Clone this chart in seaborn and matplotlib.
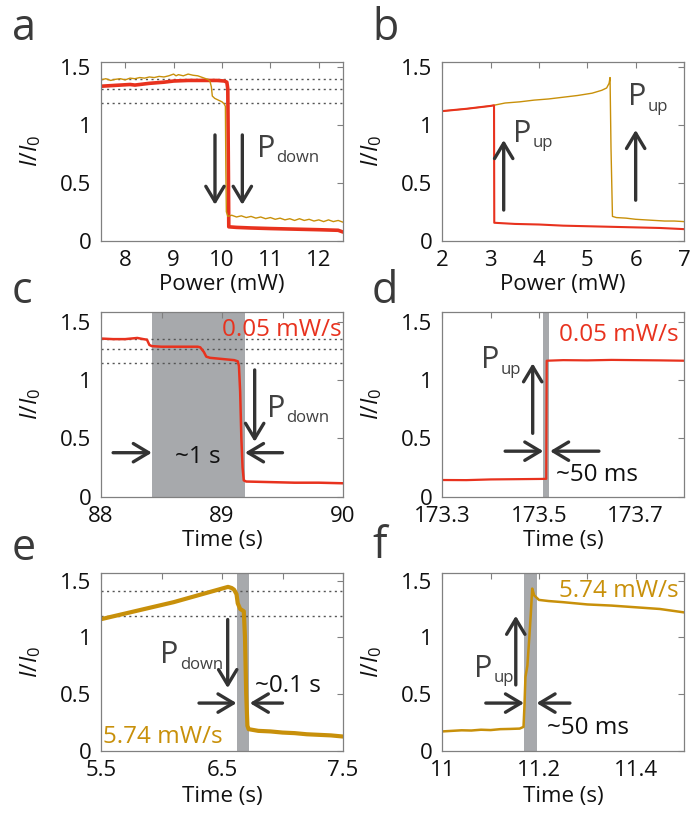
import numpy as np
import matplotlib
matplotlib.use('Agg')
import matplotlib.pyplot as plt
import seaborn as sns

RED = '#e8321e'
GOLD = '#c8900a'
ARROW = '#333333'
TXT = '#404040'

# panel a: intensity vs power (power going up)
a_red_p = [7.5, 7.7, 7.9, 8.1, 8.2, 8.5, 8.8, 9.0, 9.3, 9.6, 9.9, 10.05, 10.1, 10.12, 10.14, 10.3, 10.6, 11.0, 11.5, 12.0, 12.4, 12.5]
a_red_y = [1.335, 1.34, 1.345, 1.35, 1.345, 1.36, 1.37, 1.38, 1.385, 1.385, 1.385, 1.38, 1.37, 1.31, 0.12, 0.115, 0.11, 0.105, 0.1, 0.095, 0.09, 0.075]
a_gold_p = [7.5, 7.6, 7.7, 7.8, 7.9, 8.0, 8.1, 8.2, 8.3, 8.4, 8.5, 8.6, 8.7, 8.8, 8.9, 9.0, 9.05, 9.1, 9.2, 9.3,
            9.4, 9.5, 9.6, 9.7, 9.75, 9.78, 9.8, 9.85, 9.9, 9.95, 10.0, 10.05, 10.07, 10.08, 10.09, 10.12, 10.2,
            10.3, 10.4, 10.5, 10.6, 10.7, 10.8, 10.9, 11.0, 11.1, 11.2, 11.3, 11.4, 11.5, 11.6, 11.7, 11.8, 11.9,
            12.0, 12.1, 12.2, 12.3, 12.4, 12.5]
a_gold_y = [1.39, 1.40, 1.385, 1.395, 1.40, 1.39, 1.405, 1.40, 1.41, 1.405, 1.415, 1.41, 1.42, 1.415, 1.425, 1.44, 1.425, 1.435, 1.425, 1.44,
            1.43, 1.425, 1.41, 1.395, 1.38, 1.33, 1.25, 1.23, 1.22, 1.21, 1.20, 1.18, 1.16, 0.6, 0.25, 0.21, 0.22,
            0.205, 0.215, 0.20, 0.21, 0.195, 0.205, 0.19, 0.20, 0.185, 0.195, 0.18, 0.19, 0.175, 0.19, 0.175, 0.185, 0.17,
            0.18, 0.165, 0.18, 0.165, 0.175, 0.16]
a_levels = [1.395, 1.311, 1.187]

# panel b: intensity vs power (power going down)
b_red_p = [2.0, 2.5, 3.0, 3.07, 3.075, 3.5, 4.0, 4.5, 5.0, 5.5, 6.0, 6.5, 7.0]
b_red_y = [1.12, 1.14, 1.165, 1.17, 0.155, 0.145, 0.14, 0.13, 0.125, 0.12, 0.115, 0.11, 0.1]
b_gold_p = [2.0, 2.5, 3.0, 3.3, 3.6, 3.9, 4.2, 4.5, 4.8, 5.1, 5.3, 5.4, 5.45, 5.47, 5.49, 5.52,
            5.6, 5.8, 6.0, 6.2, 6.4, 6.6, 6.8, 7.0]
b_gold_y = [1.12, 1.14, 1.165, 1.19, 1.20, 1.215, 1.225, 1.24, 1.255, 1.275, 1.30, 1.32, 1.36, 1.41, 0.8, 0.21,
            0.2, 0.195, 0.185, 0.18, 0.175, 0.17, 0.17, 0.165]

# panel c: slow ramp, switching down
c_t = [88.0, 88.1, 88.2, 88.25, 88.3, 88.35, 88.38, 88.4, 88.42, 88.5, 88.6, 88.7, 88.8, 88.82, 88.85, 88.87,
       88.9, 89.0, 89.1, 89.13, 89.14, 89.15, 89.16, 89.17, 89.18, 89.2, 89.4, 89.6, 89.8, 90.0]
c_y = [1.355, 1.35, 1.35, 1.355, 1.36, 1.35, 1.345, 1.30, 1.29, 1.285, 1.285, 1.285, 1.285, 1.28, 1.24, 1.20,
       1.19, 1.18, 1.17, 1.16, 1.12, 0.9, 0.5, 0.25, 0.14, 0.13, 0.125, 0.12, 0.12, 0.115]
c_levels = [1.351, 1.266, 1.148]

# panel d: slow ramp, switching up
d_t = [173.3, 173.35, 173.4, 173.45, 173.5, 173.515, 173.516, 173.55, 173.6, 173.65, 173.7, 173.75, 173.8]
d_y = [0.143, 0.142, 0.148, 0.15, 0.152, 0.153, 1.165, 1.17, 1.168, 1.172, 1.17, 1.168, 1.165]

# panel e: fast ramp, switching down
e_t = [5.5, 5.6, 5.7, 5.8, 5.9, 6.0, 6.1, 6.2, 6.3, 6.4, 6.5, 6.55, 6.58, 6.6, 6.62, 6.63, 6.65, 6.68,
       6.69, 6.70, 6.71, 6.72, 6.8, 6.9, 7.0, 7.1, 7.2, 7.3, 7.4, 7.5]
e_y = [1.16, 1.185, 1.21, 1.235, 1.26, 1.285, 1.31, 1.34, 1.37, 1.40, 1.43, 1.445, 1.435, 1.42, 1.38, 1.30, 1.25, 1.23,
       1.0, 0.5, 0.22, 0.19, 0.175, 0.17, 0.16, 0.155, 0.145, 0.14, 0.135, 0.125]
e_levels = [1.413, 1.192]

# panel f: fast ramp, switching up
f_t = [11.0, 11.02, 11.04, 11.06, 11.08, 11.1, 11.12, 11.14, 11.16, 11.168, 11.17, 11.172, 11.176, 11.18,
       11.183, 11.186, 11.19, 11.2, 11.22, 11.25, 11.3, 11.35, 11.4, 11.45, 11.5]
f_y = [0.17, 0.175, 0.18, 0.178, 0.185, 0.182, 0.19, 0.192, 0.195, 0.21, 0.4, 0.65, 0.75, 1.0,
       1.2, 1.43, 1.37, 1.33, 1.32, 1.31, 1.29, 1.28, 1.265, 1.25, 1.22]

# ticks
y_ticks = [0, 0.5, 1, 1.5]
y_ticklabels = ['0', '0.5', '1', '1.5']
a_ticks = [8, 9, 10, 11, 12]
a_ticklabels = ['8', '9', '10', '11', '12']
b_ticks = [2, 3, 4, 5, 6, 7]
b_ticklabels = ['2', '3', '4', '5', '6', '7']
c_ticks = [88, 88.5, 89, 89.5, 90]
c_ticklabels = ['88', '', '89', '', '90']
d_ticks = [173.3, 173.4, 173.5, 173.6, 173.7, 173.8]
d_ticklabels = ['173.3', '', '173.5', '', '173.7', '']
e_ticks = [5.5, 6.0, 6.5, 7.0, 7.5]
e_ticklabels = ['5.5', '', '6.5', '', '7.5']
f_ticks = [11.0, 11.1, 11.2, 11.3, 11.4, 11.5]
f_ticklabels = ['11', '', '11.2', '', '11.4', '']

sns.set_style('white')
plt.rcParams['font.family'] = ['Open Sans', 'DejaVu Sans']
plt.rcParams['mathtext.fontset'] = 'custom'
plt.rcParams['mathtext.rm'] = 'Open Sans'
plt.rcParams['mathtext.it'] = 'Open Sans:italic'

fig = plt.figure(figsize=(6.96, 8.15), dpi=100)
W, H = 696, 815


def make_ax(left, top, right, bottom, xlim, ylim, ticks, ticklabels, xlabel, labtop):
    ax = fig.add_axes([left / W, 1 - bottom / H, (right - left) / W, (bottom - top) / H])
    ax.set_xlim(*xlim)
    ax.set_ylim(0, ylim)
    ax.set_xticks(ticks)
    ax.set_xticklabels(ticklabels)
    ax.set_yticks(y_ticks)
    ax.set_yticklabels(y_ticklabels)
    ax.tick_params(direction='in', top=True, right=True, length=4, width=0.8,
                   color='#808080', labelsize=16, labelcolor='#111111', pad=7)
    for s in ax.spines.values():
        s.set_color('#808080')
        s.set_linewidth(0.9)
    ax.set_xlabel(xlabel, fontsize=16, color='#111111')
    ax.xaxis.set_label_coords(0.5, -labtop / (bottom - top))
    ax.set_ylabel(r'$I/I_0$', fontsize=17, color='#111111')
    ax.yaxis.set_label_coords(-0.24, 0.5)
    return ax


def arrow(ax, tail, head):
    ax.annotate('', xy=head, xytext=tail,
                arrowprops=dict(arrowstyle='->,head_length=0.55,head_width=0.33', color=ARROW,
                                lw=2.4, shrinkA=0, shrinkB=0, mutation_scale=20))


def ptext(ax, x, y, sub):
    # big "P" with a smaller, lowered subscript
    ax.text(x, y, 'P', fontsize=22, color=TXT, va='baseline')
    ax.annotate(sub, xy=(x, y), xytext=(14, -4), textcoords='offset points',
                fontsize=12, color=TXT, va='baseline')


def line(ax, x, y, color, lw):
    sns.lineplot(x=x, y=y, ax=ax, color=color, linewidth=lw, estimator=None, sort=False, legend=False)


def levels(ax, ys):
    for yv in ys:
        ax.axhline(yv, color='#555555', ls=(0, (1.5, 2.5)), lw=1.0, zorder=1)


# a
ax = make_ax(101, 61.7, 343, 240.7, (7.5, 12.5), 1.547, a_ticks, a_ticklabels, 'Power (mW)', 33)
levels(ax, a_levels)
line(ax, a_red_p, a_red_y, RED, 2.6)
line(ax, a_gold_p, a_gold_y, GOLD, 1.0)
arrow(ax, (9.855, 0.914), (9.855, 0.31))
arrow(ax, (10.42, 0.914), (10.42, 0.31))
ptext(ax, 10.72, 0.726, 'down')

# b
ax = make_ax(442.3, 61.7, 684, 240.7, (2, 7), 1.547, b_ticks, b_ticklabels, 'Power (mW)', 33)
line(ax, b_gold_p, b_gold_y, GOLD, 1.0)
line(ax, b_red_p, b_red_y, RED, 1.5)
arrow(ax, (3.27, 0.265), (3.27, 0.87))
arrow(ax, (6.0, 0.35), (6.0, 0.957))
ptext(ax, 3.47, 0.856, 'up')
ptext(ax, 5.84, 1.173, 'up')

# c
ax = make_ax(101, 311.7, 343, 496.7, (88, 90), 1.585, c_ticks, c_ticklabels, 'Time (s)', 33)
ax.axvspan(88.42, 89.19, color='#a7a9ac', lw=0, zorder=0)
levels(ax, c_levels)
line(ax, c_t, c_y, RED, 1.8)
arrow(ax, (89.27, 1.086), (89.27, 0.47))
arrow(ax, (88.10, 0.377), (88.42, 0.377))
arrow(ax, (89.50, 0.377), (89.19, 0.377))
ptext(ax, 89.37, 0.686, 'down')
ax.text(88.80, 0.29, '~1 s', fontsize=17.5, color='#111111', ha='center', va='baseline')
ax.text(89.99, 1.38, '0.05 mW/s', fontsize=17.5, color=RED, ha='right', va='baseline')

# d
ax = make_ax(442.3, 311.7, 684, 496.7, (173.3, 173.8), 1.585, d_ticks, d_ticklabels, 'Time (s)', 33)
ax.axvspan(173.509, 173.521, color='#a7a9ac', lw=0, zorder=0)
line(ax, d_t, d_y, RED, 1.6)
arrow(ax, (173.487, 0.543), (173.487, 1.143))
arrow(ax, (173.43, 0.39), (173.509, 0.39))
arrow(ax, (173.624, 0.39), (173.523, 0.39))
ptext(ax, 173.38, 1.10, 'up')
ax.text(173.536, 0.137, '~50 ms', fontsize=17.5, color='#111111', va='baseline')
ax.text(173.788, 1.337, '0.05 mW/s', fontsize=17.5, color=RED, ha='right', va='baseline')

# e
ax = make_ax(101, 572.7, 343, 750.7, (5.5, 7.5), 1.57, e_ticks, e_ticklabels, 'Time (s)', 35)
ax.axvspan(6.626, 6.726, color='#a7a9ac', lw=0, zorder=0)
levels(ax, e_levels)
line(ax, e_t, e_y, GOLD, 3.0)
arrow(ax, (6.547, 1.157), (6.547, 0.552))
arrow(ax, (6.31, 0.42), (6.62, 0.42))
arrow(ax, (7.0, 0.42), (6.73, 0.42))
ptext(ax, 5.99, 0.77, 'down')
ax.text(6.773, 0.52, '~0.1 s', fontsize=17.5, color='#111111', va='baseline')
ax.text(5.52, 0.065, '5.74 mW/s', fontsize=17.5, color=GOLD, va='baseline')

# f
ax = make_ax(442.3, 572.7, 684, 750.7, (11.0, 11.5), 1.57, f_ticks, f_ticklabels, 'Time (s)', 35)
ax.axvspan(11.169, 11.195, color='#a7a9ac', lw=0, zorder=0)
line(ax, f_t, f_y, GOLD, 1.8)
arrow(ax, (11.152, 0.58), (11.152, 1.19))
arrow(ax, (11.09, 0.42), (11.169, 0.42))
arrow(ax, (11.264, 0.42), (11.195, 0.42))
ptext(ax, 11.065, 0.653, 'up')
ax.text(11.216, 0.147, '~50 ms', fontsize=17.5, color='#111111', va='baseline')
ax.text(11.488, 1.36, '5.74 mW/s', fontsize=17.5, color=GOLD, ha='right', va='baseline')

# panel letters
for lab, px, py in [('a', 12, 40), ('b', 372, 40), ('c', 12, 303), ('d', 372, 303), ('e', 12, 560), ('f', 372, 558)]:
    fig.text(px / W, 1 - py / H, lab, fontsize=31, color='#3a3a3a', va='baseline')

fig.savefig('out.png', dpi=100)
